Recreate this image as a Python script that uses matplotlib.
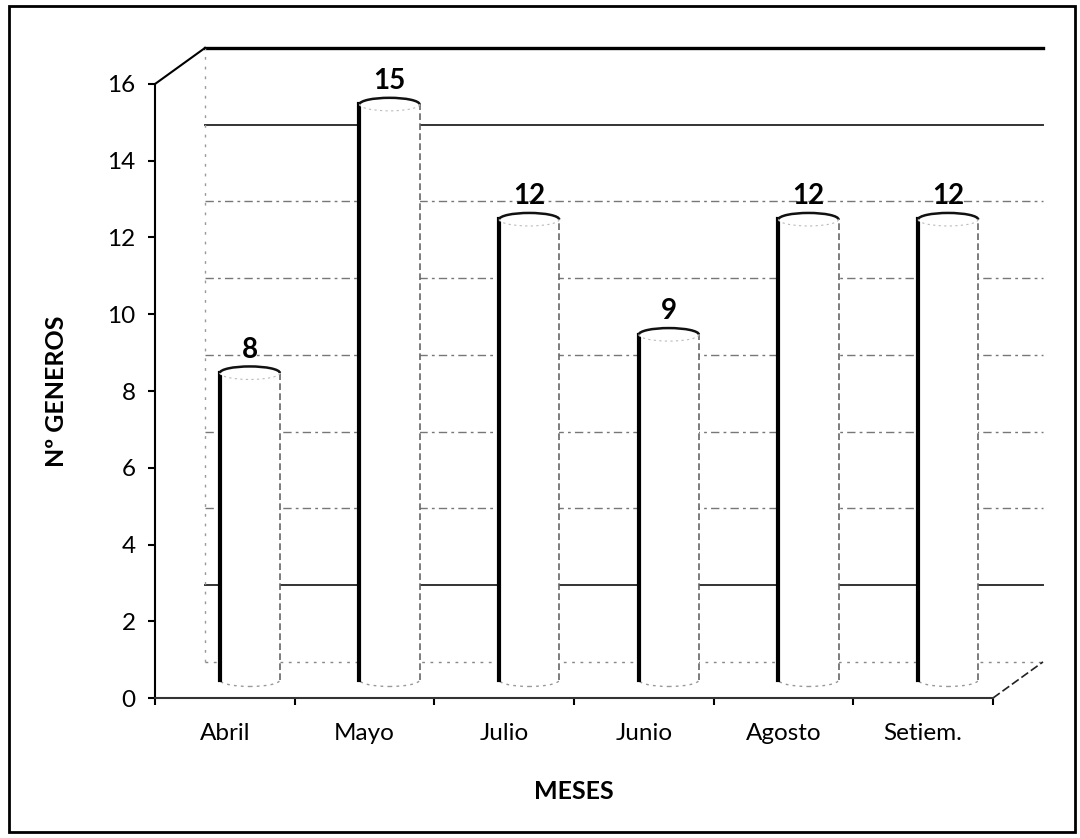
import matplotlib
matplotlib.use("Agg")
import matplotlib.pyplot as plt
from matplotlib.patches import Ellipse, Rectangle, Arc

plt.rcParams['font.family'] = ['Lato', 'DejaVu Sans']

meses = ['Abril', 'Mayo', 'Julio', 'Junio', 'Agosto', 'Setiem.']
generos = [8, 15, 12, 9, 12, 12]
y_ticks = [0, 2, 4, 6, 8, 10, 12, 14, 16]

# pseudo 3-D depth offset in data units
DX = 0.358
DY = 0.94
W = 0.43
CAP = 0.34

fig = plt.figure(figsize=(10.8, 8.38), dpi=100)
ax = fig.add_axes([155 / 1080, 140 / 838, 838 / 1080, 614 / 838])
ax.set_xlim(0, 6)
ax.set_ylim(0, 16)

# back wall grid lines
for v in y_ticks:
    if v == 16:
        ax.plot([DX, 6 + DX], [v + DY, v + DY], color='black', lw=2.4, clip_on=False)
    elif v in (14, 2):
        ax.plot([DX, 6 + DX], [v + DY, v + DY], color='#333333', lw=1.4, clip_on=False)
    elif v == 0:
        ax.plot([DX, 6 + DX], [v + DY, v + DY], color='#888888', lw=1, ls=(0, (2, 4)), clip_on=False)
    else:
        ax.plot([DX, 6 + DX], [v + DY, v + DY], color='#777777', lw=1, ls=(0, (6, 3, 2, 3)), clip_on=False)
ax.plot([DX, DX], [DY, 16 + DY], color='#999999', lw=1, ls=(0, (2, 5)), clip_on=False)
ax.plot([0, DX], [16, 16 + DY], color='black', lw=1.5, clip_on=False)
ax.plot([6, 6 + DX], [0, DY], color='#222222', lw=1.2, ls=(0, (5, 2)), clip_on=False)

# cylinders
for i, v in enumerate(generos):
    xc = i + 0.5 + DX / 2
    base = DY / 2
    top = v + DY / 2
    ax.add_patch(Rectangle((xc - W / 2, base), W, top - base, facecolor='white',
                           edgecolor='none', zorder=3))
    ax.add_patch(Ellipse((xc, base), W, CAP, facecolor='white', edgecolor='#999999',
                         lw=1, ls=(0, (2, 3)), zorder=2.9))
    ax.plot([xc - W / 2, xc - W / 2], [base, top], color='black', lw=3, zorder=4)
    ax.plot([xc + W / 2, xc + W / 2], [base, top], color='#666666', lw=1.2,
            ls=(0, (4, 2)), zorder=4)
    ax.add_patch(Ellipse((xc, top), W, CAP, facecolor='white', edgecolor='none', zorder=5))
    ax.add_patch(Arc((xc, top), W, CAP, theta1=0, theta2=180, edgecolor='#111111',
                     lw=1.8, zorder=6))
    ax.add_patch(Arc((xc, top), W, CAP, theta1=180, theta2=360, edgecolor='#bbbbbb',
                     lw=0.8, ls=(0, (2, 3)), zorder=6))
    ax.text(xc, top + CAP / 2 + 0.1, str(v), ha='center', va='bottom',
            fontsize=20, fontweight='bold', zorder=6)

for side in ('top', 'right'):
    ax.spines[side].set_visible(False)
ax.spines['left'].set_linewidth(1.5)
ax.spines['bottom'].set_linewidth(1.5)
ax.spines['bottom'].set_color('#333333')

ax.set_yticks(y_ticks)
ax.tick_params(axis='y', labelsize=17.5, length=5, width=1.5, pad=9)
ax.set_xticks([i + 0.5 for i in range(len(meses))])
ax.set_xticklabels(meses, fontsize=17.5)
ax.set_xticks(range(len(meses) + 1), minor=True)
ax.tick_params(axis='x', which='major', length=0, pad=18)
ax.tick_params(axis='x', which='minor', length=5, width=1.5)

ax.set_xlabel('MESES', fontsize=18, fontweight='bold', labelpad=26)
ax.set_ylabel('Nº GENEROS', fontsize=18, fontweight='bold', labelpad=28)

# outer chart border
fig.add_artist(Rectangle((9 / 1080, 6 / 838), 1066 / 1080, 826 / 838,
                         transform=fig.transFigure, fill=False,
                         edgecolor='black', lw=2))

fig.savefig('out.png', dpi=100)
